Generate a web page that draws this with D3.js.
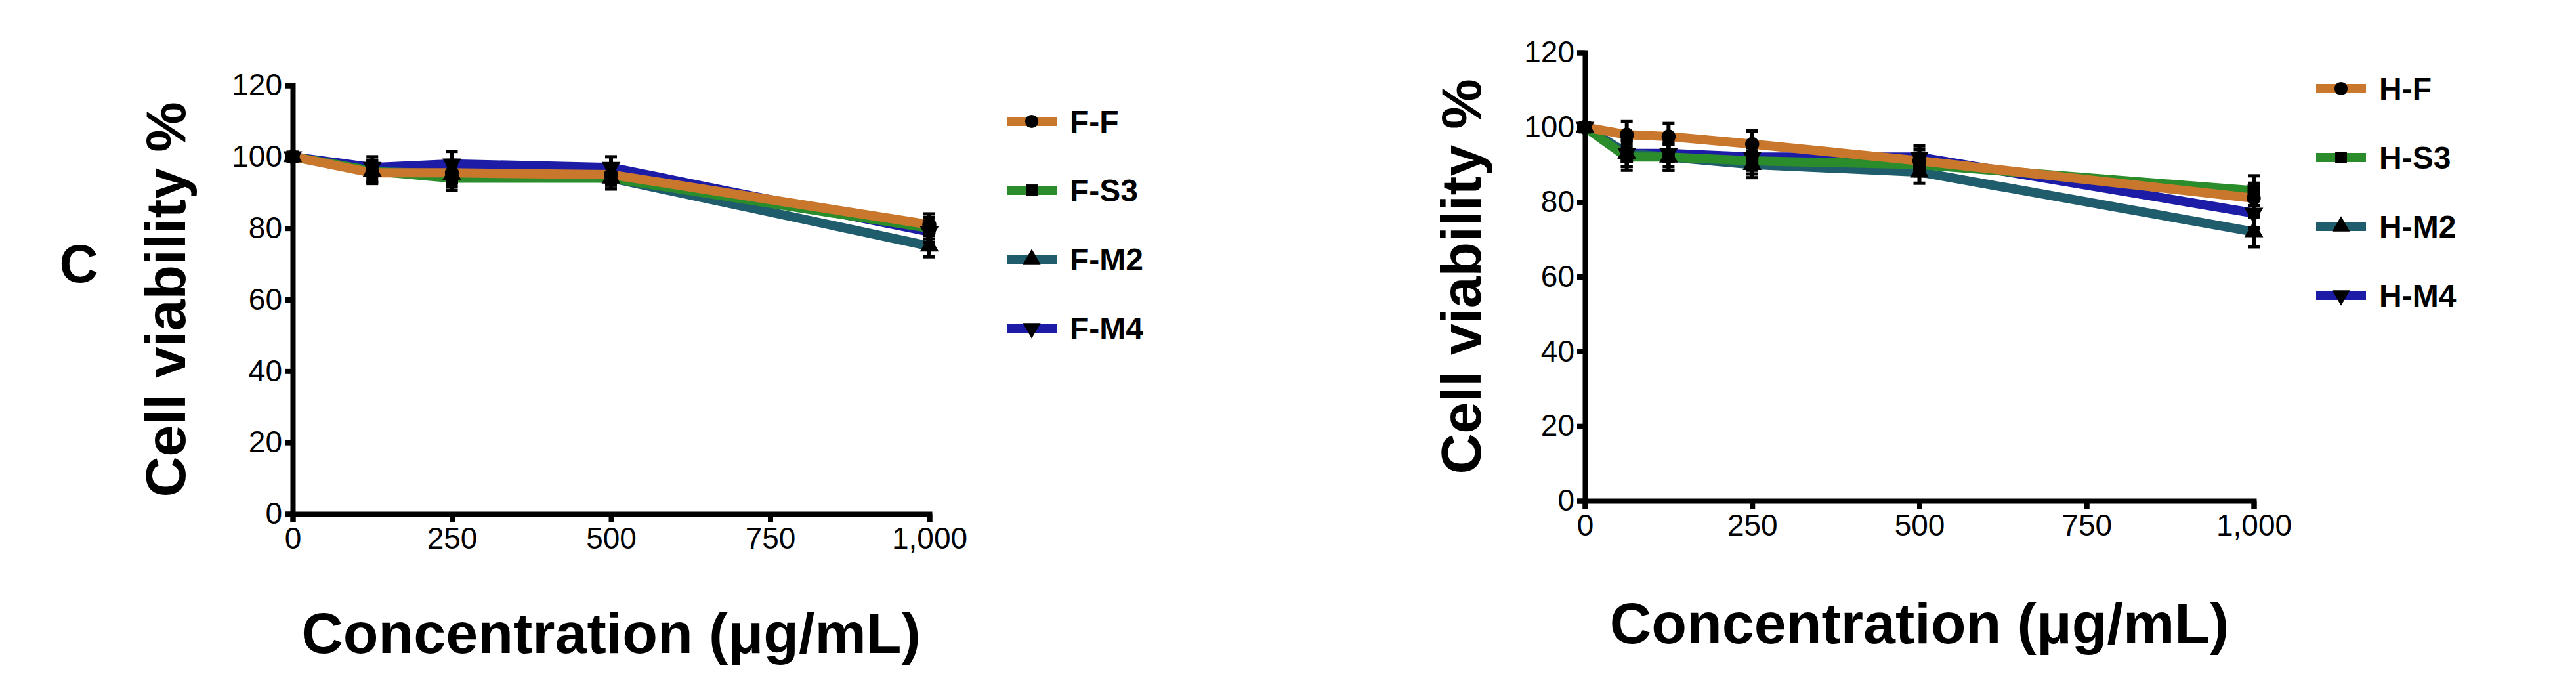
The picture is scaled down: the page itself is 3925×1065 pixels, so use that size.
<!DOCTYPE html>
<html><head><meta charset="utf-8">
<script src="https://cdn.jsdelivr.net/npm/d3@7"></script>
<style>body{margin:0;background:#fff}</style></head>
<body><svg id="c" width="3925" height="1065"></svg>
<script>
const xF = [0,125,250,500,1000];
const ffVals  = [100,95.5,95.5,95,81];
const fs3Vals = [100,96,94,94,80];
const fm2Vals = [100,96,95,94,75];
const fm4Vals = [100,97,98,97,79];
const fErr    = [1,3,3.5,3,3];
const xH = [0,62.5,125,250,500,1000];
const hfVals  = [100,98,97.5,95.5,91,81];
const hs3Vals = [100,92,92,91,90,83];
const hm2Vals = [100,93,92,90,88,72];
const hm4Vals = [100,93,93,92,92,77];
const hErr    = [1,3.5,3.5,3.5,3,4];
const xTicks = [0,250,500,750,1000];
const yTicks = [0,20,40,60,80,100,120];
const colors = ["#c8772c","#2b8c2b","#1f5c6c","#1c1ca6"];
const symbols = [d3.symbolCircle,d3.symbolSquare,d3.symbolTriangle,"down"];

const svg = d3.select("#c");
const tickFont = "'Liberation Sans Narrow','Arial Narrow',Arial,sans-serif";
const boldFont = "Arial,'Liberation Sans',sans-serif";

function drawSym(g,i,cx,cy,size){
  const s=symbols[i];
  if(s==="down"){
    g.append("path").attr("d",d3.symbol(d3.symbolTriangle,size)())
      .attr("transform",`translate(${cx},${cy}) rotate(180)`).attr("fill","#000");
  } else {
    g.append("path").attr("d",d3.symbol(s,size)()).attr("transform",`translate(${cx},${cy})`).attr("fill","#000");
  }
}
function panel(o){
  const g = svg.append("g");
  const x = d3.scaleLinear().domain([0,1000]).range([o.x0,o.x1]);
  const y = d3.scaleLinear().domain([0,120]).range([o.y0,o.y1]);
  const ya = g.append("g").attr("transform",`translate(${o.x0},0)`)
    .call(d3.axisLeft(y).tickValues(yTicks).tickSize(12).tickPadding(4));
  const xa = g.append("g").attr("transform",`translate(0,${o.y0})`)
    .call(d3.axisBottom(x).tickValues(xTicks).tickSize(12).tickPadding(8));
  [ya,xa].forEach(a=>{
    a.select(".domain").attr("stroke","#000").attr("stroke-width",8);
    a.selectAll(".tick line").attr("stroke","#000").attr("stroke-width",8);
    a.selectAll("text").attr("font-family",tickFont).attr("font-size",46).attr("fill","#000");
  });
  const line = d3.line().x(d=>x(d[0])).y(d=>y(d[1]));
  const order=[3,2,1,0];
  order.forEach(i=>{
    const pts = o.xs.map((xv,j)=>[xv,o.series[i][j]]);
    g.append("path").attr("d",line(pts)).attr("fill","none")
      .attr("stroke",colors[i]).attr("stroke-width",14).attr("stroke-linejoin","round");
  });
  order.forEach(i=>{
    o.xs.forEach((xv,j)=>{
      const v=o.series[i][j], e=o.err[j];
      if(j>0){
        g.append("line").attr("x1",x(xv)).attr("x2",x(xv)).attr("y1",y(v-e)).attr("y2",y(v+e))
          .attr("stroke","#000").attr("stroke-width",6);
        [v-e,v+e].forEach(t=>g.append("line").attr("x1",x(xv)-9).attr("x2",x(xv)+9)
          .attr("y1",y(t)).attr("y2",y(t)).attr("stroke","#000").attr("stroke-width",5));
      }
      drawSym(g,i,x(xv),y(v),360);
    });
  });
  g.append("text").attr("transform",`translate(${o.ytx},${(o.y0+o.y1)/2}) rotate(-90)`)
    .attr("text-anchor","middle").attr("font-family",boldFont).attr("font-weight","bold")
    .attr("font-size",86).text("Cell viability %");
  g.append("text").attr("x",(o.x0+o.x1)/2).attr("y",o.xty).attr("text-anchor","middle")
    .attr("font-family",boldFont).attr("font-weight","bold").attr("font-size",88)
    .text("Concentration (μg/mL)");
  o.names.forEach((n,i)=>{
    const ly=o.ly+i*105;
    g.append("line").attr("x1",o.lx-38).attr("x2",o.lx+38).attr("y1",ly).attr("y2",ly)
      .attr("stroke",colors[i]).attr("stroke-width",14);
    drawSym(g,i,o.lx,ly,320);
    g.append("text").attr("x",o.lx+58).attr("y",ly+17).attr("font-family",boldFont)
      .attr("font-weight","bold").attr("font-size",48).text(n);
  });
}
panel({x0:446,x1:1416,y0:783,y1:130,xs:xF,series:[ffVals,fs3Vals,fm2Vals,fm4Vals],err:fErr,
  names:["F-F","F-S3","F-M2","F-M4"],lx:1572,ly:185,ytx:282,xty:995});
panel({x0:2415,x1:3434,y0:763,y1:80,xs:xH,series:[hfVals,hs3Vals,hm2Vals,hm4Vals],err:hErr,
  names:["H-F","H-S3","H-M2","H-M4"],lx:3567,ly:135,ytx:2256,xty:980});
svg.append("text").attr("x",120).attr("y",430).attr("text-anchor","middle")
  .attr("font-family",boldFont).attr("font-weight","bold").attr("font-size",82).text("C");
</script></body></html>
